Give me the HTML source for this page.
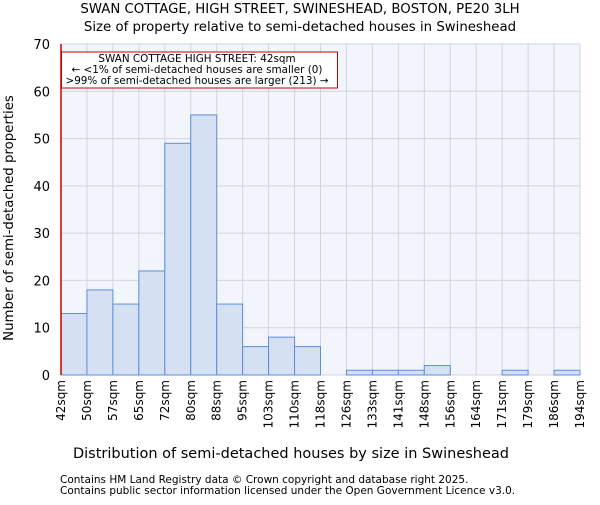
<!DOCTYPE html>
<html><head><meta charset="utf-8"><style>
body{margin:0;background:#fff;font-family:"Liberation Sans","DejaVu Sans",sans-serif}
svg text{font-family:"DejaVu Sans","Liberation Sans",sans-serif}
</style></head><body>
<svg id="c" width="600" height="500">
<text x="300" y="13" font-size="13.3" text-anchor="middle">SWAN COTTAGE, HIGH STREET, SWINESHEAD, BOSTON, PE20 3LH</text>
<text x="300" y="31" font-size="13.3" text-anchor="middle">Size of property relative to semi-detached houses in Swineshead</text>
<rect x="61" y="44" width="519" height="331" fill="#f2f5fc"/>
<g id="grid"></g><g id="bars"></g><g id="axes"></g>
<line x1="61" y1="44" x2="61" y2="375" stroke="#cc0000" stroke-width="1.5"/>
<rect x="61.5" y="52" width="276" height="36" fill="#fff" stroke="#cc0000"/>
<text x="197" y="62" font-size="10.4" text-anchor="middle">SWAN COTTAGE HIGH STREET: 42sqm</text>
<text x="197" y="73" font-size="10.4" text-anchor="middle">← &lt;1% of semi-detached houses are smaller (0)</text>
<text x="197" y="84" font-size="10.4" text-anchor="middle">&gt;99% of semi-detached houses are larger (213) →</text>
<text x="291" y="458" font-size="14.5" text-anchor="middle">Distribution of semi-detached houses by size in Swineshead</text>
<text transform="translate(13,218) rotate(-90)" font-size="13.3" text-anchor="middle">Number of semi-detached properties</text>
<text x="60" y="483" font-size="10.5">Contains HM Land Registry data © Crown copyright and database right 2025.</text>
<text x="60" y="494" font-size="10.5">Contains public sector information licensed under the Open Government Licence v3.0.</text>
</svg>
<script>
const edgeLabels=["42sqm","50sqm","57sqm","65sqm","72sqm","80sqm","88sqm","95sqm","103sqm","110sqm","118sqm","126sqm","133sqm","141sqm","148sqm","156sqm","164sqm","171sqm","179sqm","186sqm","194sqm"];
const counts=[13,18,15,22,49,55,15,6,8,6,0,1,1,1,2,0,0,1,0,1];
const yTicks=[0,10,20,30,40,50,60,70];
const NS="http://www.w3.org/2000/svg";
const X0=61,X1=580,Y0=375,Y1=44,YMAX=70;
const bw=(X1-X0)/counts.length;
const xs=i=>X0+i*bw, ys=v=>Y0-(v/YMAX)*(Y0-Y1);
function mk(t,a,p){const e=document.createElementNS(NS,t);for(const k in a)e.setAttribute(k,a[k]);p.appendChild(e);return e;}
const g=document.getElementById('grid'),b=document.getElementById('bars'),ax=document.getElementById('axes');
edgeLabels.forEach((l,i)=>{
 const ln=mk('line',{x1:xs(i),x2:xs(i),y1:Y1,y2:Y0,stroke:'#d0d4de',"stroke-width":1},g);
 
 
 const t=mk('text',{transform:`translate(${xs(i)+4},380) rotate(-90)`,"font-size":12,"text-anchor":"end"},ax);
 t.textContent=l;
 
 
});
yTicks.forEach(v=>{
 const ln=mk('line',{x1:X0,x2:X1,y1:ys(v),y2:ys(v),stroke:'#d0d4de',"stroke-width":1},g);
 
 
 const t=mk('text',{x:50,y:ys(v)+5,"font-size":13,"text-anchor":"end"},ax);
 t.textContent=v;
 
 
});
counts.forEach((v,i)=>{
 if(v<=0)return;
 const r=mk('rect',{x:xs(i),y:ys(v),width:bw,height:Y0-ys(v),fill:'#d6e0f3',stroke:'#5b8fd9',"stroke-width":1},b);
 
 
});
</script>
</body></html>
